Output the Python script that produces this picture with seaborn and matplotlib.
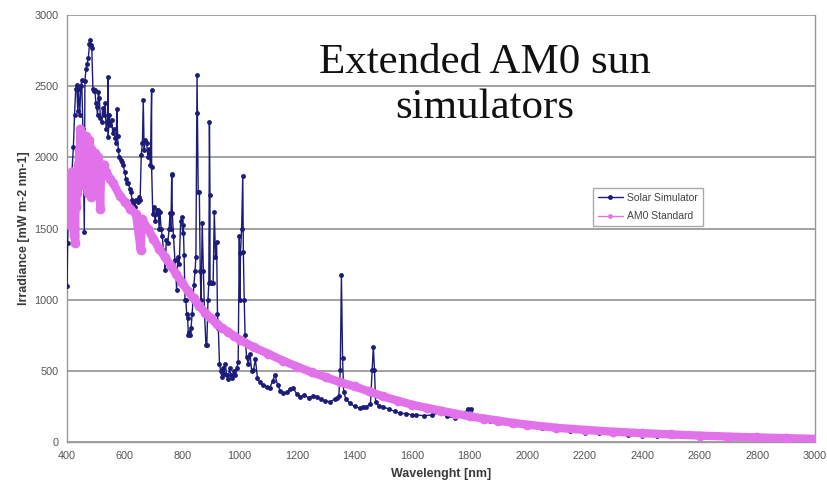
import matplotlib
matplotlib.use("Agg")
import matplotlib.pyplot as plt
import seaborn as sns
import pandas as pd

# ---------------- data ----------------
sim_wl = [400, 402, 408, 412, 417, 422, 426, 430, 434, 437, 440, 444, 448, 451, 455, 460,
          462, 466, 470, 474, 478, 480, 483, 486, 490, 494, 497, 500, 503, 506, 509, 512,
          516, 520, 524, 528, 532, 536, 540, 543, 543, 547, 551, 555, 559, 563, 567, 571,
          573, 576, 578, 582, 586, 590, 595, 600, 605, 610, 613, 618, 622, 626, 630, 635,
          640, 645, 650, 654, 658, 662, 665, 668, 672, 677, 681, 685, 690, 694, 694, 698,
          702, 706, 710, 713, 717, 720, 723, 727, 731, 735, 738, 741, 745, 750, 755, 758,
          761, 764, 764, 766, 770, 775, 778, 781, 785, 790, 795, 800, 802, 804, 807, 810,
          813, 816, 819, 822, 825, 828, 831, 835, 838, 841, 845, 848, 851, 852, 856, 860,
          863, 866, 870, 874, 878, 883, 886, 890, 893, 895, 897, 897, 902, 908, 912, 916,
          920, 923, 926, 930, 934, 938, 942, 946, 950, 955, 960, 965, 970, 975, 980, 985,
          990, 995, 999, 1001, 1003, 1007, 1011, 1013, 1016, 1019, 1024, 1030, 1036, 1042,
          1048, 1055, 1062, 1070, 1080, 1094, 1105, 1115, 1123, 1132, 1142, 1152, 1165,
          1175, 1187, 1198, 1210, 1225, 1240, 1255, 1268, 1282, 1297, 1314, 1330, 1337,
          1345, 1350, 1354, 1358, 1362, 1370, 1384, 1400, 1418, 1430, 1441, 1455, 1461,
          1465, 1469, 1473, 1485, 1499, 1520, 1540, 1557, 1580, 1600, 1615, 1640, 1670,
          1700, 1720, 1750, 1780, 1795, 1805, 1815, 1840, 1870, 1900, 1950, 2000, 2050,
          2100, 2150, 2200, 2250, 2300, 2350, 2400, 2450, 2500, 2600, 2700, 2800, 2900, 3000]
sim_val = [1096, 1400, 1850, 1750, 1900, 2075, 2300, 2480, 2508, 2330, 2480, 2300, 2500, 2543, 2200, 1478,
           2540, 2620, 2660, 2700, 2800, 2824, 2790, 2766, 2480, 2470, 2473, 2380, 2356, 2300, 2461, 2420,
           2280, 2250, 2350, 2300, 2380, 2200, 2250, 2567, 2145, 2300, 2230, 2260, 2170, 2200, 2140, 2100,
           2344, 2150, 2052, 2000, 1980, 1970, 1950, 1900, 1850, 1820, 1817, 1780, 1760, 1700, 1680, 1650,
           1700, 1690, 1720, 1700, 2020, 2100, 2403, 2050, 2120, 2100, 2000, 2060, 1950, 2473, 1934, 1600,
           1650, 1550, 1600, 1630, 1630, 1500, 1618, 1500, 1450, 1350, 1300, 1208, 1420, 1400, 1500, 1607,
           1500, 1887, 1875, 1607, 1450, 1279, 1200, 1068, 1300, 1250, 1550, 1580, 1466, 1525, 1314, 998,
           998, 900, 869, 752, 770, 752, 800, 900, 1000, 1103, 1200, 1300, 2309, 2578, 1758, 1758,
           1200, 1000, 1541, 1200, 900, 682, 682, 1000, 1120, 2251, 1735, 1126, 1120, 1119, 1618, 1300,
           1407, 900, 800, 550, 500, 460, 520, 480, 550, 470, 440, 520, 470, 450, 500, 470,
           520, 560, 1450, 998, 1328, 1500, 1869, 1333, 1000, 752, 600, 550, 620, 500,
           506, 580, 450, 420, 400, 389, 380, 430, 471, 400, 360, 342, 350,
           370, 377, 340, 318, 330, 310, 325, 318, 300, 290, 283, 300, 307,
           320, 506, 1173, 588, 350, 300, 272, 250, 237, 245, 248, 270, 506,
           670, 506, 280, 250, 248, 230, 215, 201, 200, 190, 190, 185, 190,
           210, 180, 170, 200, 235, 230, 180, 160, 150, 140, 120, 110, 100,
           90, 80, 65, 60, 55, 50, 45, 42, 40, 35, 30, 27, 24, 20]

am0_wl = [400, 402, 404, 406, 408, 410, 412, 414, 416, 418, 420, 422, 424, 426, 428, 430,
          432, 434, 436, 438, 440, 442, 444, 446, 448, 450, 452, 454, 456, 458, 460, 462,
          464, 466, 468, 470, 472, 474, 476, 478, 480, 482, 484, 486, 488, 490, 492, 494,
          496, 498, 500, 502, 504, 506, 508, 510, 512, 515, 518, 522, 526, 530, 535, 540,
          550, 560, 584, 600, 620, 640, 656, 660, 680, 700, 720, 740, 760, 780, 800, 820,
          840, 860, 880, 900, 920, 940, 960, 980, 1000, 1050, 1100, 1150, 1200, 1250, 1300,
          1350, 1400, 1450, 1500, 1550, 1600, 1650, 1700, 1750, 1800, 1850, 1900, 1950, 2000,
          2100, 2200, 2300, 2400, 2500, 2600, 2700, 2800, 2900, 3000]
am0_val = [1780, 1550, 1850, 1600, 1880, 1700, 1820, 1520, 1900, 1650, 1870, 1700, 1450, 1750, 1400, 1800,
           1650, 1900, 1750, 1950, 1850, 2050, 1900, 2200, 2000, 2180, 1950, 2150, 1850, 2120, 1900, 2100,
           1800, 2150, 1950, 2100, 1750, 2080, 1900, 2120, 1850, 2060, 1720, 2000, 1880, 2040, 1820, 2000,
           1900, 2030, 1850, 1990, 1880, 2000, 1800, 1960, 1900, 1640, 1880, 1940, 1900, 1950, 1900, 1880,
           1850, 1820, 1730, 1690, 1640, 1600, 1350, 1570, 1500, 1430, 1360, 1300, 1240, 1180, 1120, 1060,
           1010, 955, 910, 870, 830, 800, 775, 745, 720, 665, 620, 572, 530, 490, 455,
           420, 390, 355, 320, 290, 262, 240, 220, 200, 180, 165, 150, 135, 122,
           100, 85, 72, 62, 53, 45, 38, 32, 27, 22]

x_ticks = [400, 600, 800, 1000, 1200, 1400, 1600, 1800, 2000, 2200, 2400, 2600, 2800, 3000]
y_ticks = [0, 500, 1000, 1500, 2000, 2500, 3000]

# ---------------- plot ----------------
sns.set_theme(style="white")
plt.rcParams['font.family'] = ['Liberation Sans', 'DejaVu Sans']

navy = '#1c1c78'
pink = '#e272ea'

fig = plt.figure(figsize=(8.28, 4.90), dpi=100)
ax = fig.add_axes([0.081, 0.098, 0.903, 0.871])

sim_df = pd.DataFrame({'wl': sim_wl, 'val': sim_val})
am0_df = pd.DataFrame({'wl': am0_wl, 'val': am0_val})

sns.lineplot(data=sim_df, x='wl', y='val', ax=ax, estimator=None, sort=False,
             color=navy, linewidth=1.0, marker='o', markersize=3.5,
             markeredgewidth=0, label='Solar Simulator', zorder=3)
sns.lineplot(data=am0_df, x='wl', y='val', ax=ax, estimator=None, sort=False,
             color=pink, linewidth=6, marker='o', markersize=7,
             markeredgewidth=0, label='AM0 Standard', zorder=4,
             solid_joinstyle='round', solid_capstyle='round')

ax.set_xlim(400, 3000)
ax.set_ylim(0, 3000)
ax.set_xticks(x_ticks)
ax.set_yticks(y_ticks)
ax.set_xticklabels([str(v) for v in x_ticks])
ax.set_yticklabels([str(v) for v in y_ticks])
ax.tick_params(axis='both', labelsize=7.8, colors='#888888', labelcolor='#555555',
               length=3, width=0.8, direction='out')
ax.tick_params(axis='y', length=3, pad=3)
ax.grid(axis='y', color='#9a9a9a', linewidth=1.3)
ax.set_axisbelow(True)
for s in ['left', 'bottom', 'right']:
    ax.spines[s].set_color('#999999')
    ax.spines[s].set_linewidth(1.0)
ax.spines['top'].set_visible(False)

ax.set_xlabel('Wavelenght [nm]', fontsize=9, fontweight='bold', color='#3a3a3a', labelpad=5)
ax.set_ylabel('Irradiance [mW m-2 nm-1]', fontsize=9, fontweight='bold', color='#3a3a3a', labelpad=3)

leg = ax.legend(loc='upper left', bbox_to_anchor=(0.696, 0.608), fontsize=7.5,
                frameon=True, fancybox=False, edgecolor='#aaaaaa', framealpha=1,
                handlelength=2.4, borderpad=0.5, labelspacing=0.8, handletextpad=0.4)
for h in leg.legend_handles:
    h.set_linewidth(1.0)
    h.set_markersize(3.5)
for t in leg.get_texts():
    t.set_color('#444444')

fig.text(0.585, 0.826, 'Extended AM0 sun\nsimulators', ha='center', va='center',
         fontsize=31, family=['Liberation Serif', 'DejaVu Serif'], color='#111111',
         linespacing=1.22)

fig.savefig('out.png', dpi=100)
